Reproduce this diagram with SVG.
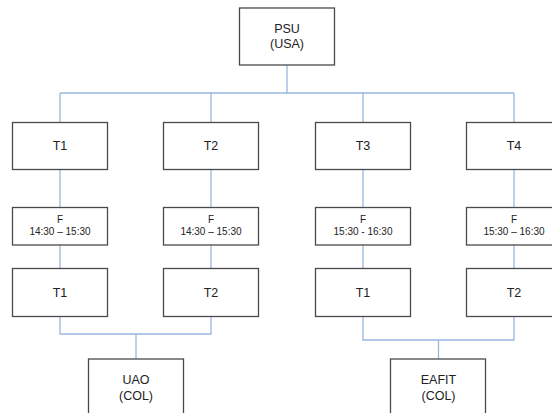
<svg xmlns="http://www.w3.org/2000/svg" width="552" height="413" viewBox="0 0 552 413">
<style>
.box{fill:#ffffff;stroke:#4a4a4a;stroke-width:1.3}
.t{font-family:"Liberation Sans",Arial,sans-serif;font-size:12.5px;fill:#222;text-anchor:middle}
.s{font-family:"Liberation Sans",Arial,sans-serif;font-size:10px;fill:#222;text-anchor:middle}
.c{fill:none;stroke:#98b7e0;stroke-width:1.3}
</style>
<rect width="552" height="413" fill="#ffffff"/>
<g id="connectors">
<path class="c" d="M287,65 V93 M60,93 H514 M60,93 V122.5 M211,93 V122.5 M363,93 V122.5 M514,93 V122.5"/>
<path class="c" d="M60,169.5 V207.5 M211,169.5 V207.5 M363,169.5 V207.5 M514,169.5 V207.5"/>
<path class="c" d="M60,245 V268.5 M211,245 V268.5 M363,245 V268.5 M514,245 V268.5"/>
<path class="c" d="M60,316.5 V334 H211 V316.5 M136,334 V359"/>
<path class="c" d="M363,316.5 V340 H514 V316.5 M438.5,340 V359"/>
</g>
<g id="psu"><rect class="box" x="239.5" y="8" width="95" height="57"/><text class="t" x="287" y="33">PSU</text><text class="t" x="287" y="48">(USA)</text></g>
<g id="t1a"><rect class="box" x="12.5" y="122.5" width="95" height="47"/><text class="t" x="60" y="150">T1</text></g>
<g id="t2a"><rect class="box" x="163.5" y="122.5" width="95" height="47"/><text class="t" x="211" y="150">T2</text></g>
<g id="t3a"><rect class="box" x="315.5" y="122.5" width="95" height="47"/><text class="t" x="363" y="150">T3</text></g>
<g id="t4a"><rect class="box" x="466.5" y="122.5" width="95" height="47"/><text class="t" x="514" y="150">T4</text></g>
<g id="f1"><rect class="box" x="12.5" y="207.5" width="95" height="37.5"/><text class="s" x="60" y="222.5">F</text><text class="s" x="60" y="235">14:30 – 15:30</text></g>
<g id="f2"><rect class="box" x="163.5" y="207.5" width="95" height="37.5"/><text class="s" x="211" y="222.5">F</text><text class="s" x="211" y="235">14:30 – 15:30</text></g>
<g id="f3"><rect class="box" x="315.5" y="207.5" width="95" height="37.5"/><text class="s" x="363" y="222.5">F</text><text class="s" x="363" y="235">15:30 - 16:30</text></g>
<g id="f4"><rect class="box" x="466.5" y="207.5" width="95" height="37.5"/><text class="s" x="514" y="222.5">F</text><text class="s" x="514" y="235">15:30 – 16:30</text></g>
<g id="t1b"><rect class="box" x="12.5" y="268.5" width="95" height="48"/><text class="t" x="60" y="296.5">T1</text></g>
<g id="t2b"><rect class="box" x="163.5" y="268.5" width="95" height="48"/><text class="t" x="211" y="296.5">T2</text></g>
<g id="t1c"><rect class="box" x="315.5" y="268.5" width="95" height="48"/><text class="t" x="363" y="296.5">T1</text></g>
<g id="t2c"><rect class="box" x="466.5" y="268.5" width="95" height="48"/><text class="t" x="514" y="296.5">T2</text></g>
<g id="uao"><rect class="box" x="88.5" y="359" width="95" height="70"/><text class="t" x="136" y="384">UAO</text><text class="t" x="136" y="399.5">(COL)</text></g>
<g id="eafit"><rect class="box" x="390.5" y="359" width="95" height="70"/><text class="t" x="438.5" y="384">EAFIT</text><text class="t" x="438.5" y="399.5">(COL)</text></g>
</svg>
